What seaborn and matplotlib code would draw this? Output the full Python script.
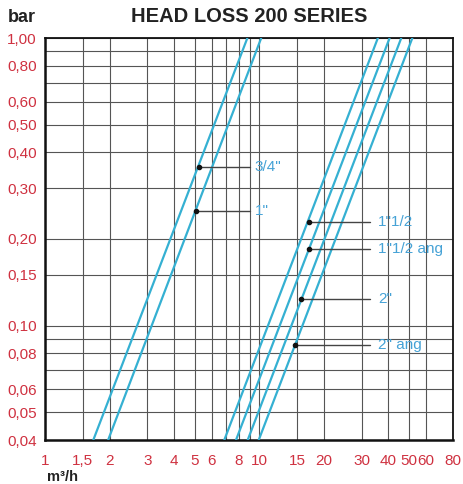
import numpy as np
import pandas as pd
import seaborn as sns
import matplotlib.pyplot as plt
from matplotlib.ticker import FixedLocator, NullFormatter

# pipe sizes, in the order the curves appear left to right
sizes = ['3/4"', '1"', '1"1/2', '1"1/2 ang', '2"', '2" ang']

# flow (m3/h) where each curve meets 0,04 bar and 1,00 bar
q_at_low = [1.68, 1.97, 6.86, 7.78, 8.82, 9.93]
q_at_high = [8.79, 10.2, 35.7, 40.5, 45.9, 51.7]
bar_low = 0.04
bar_high = 1.00

# points on the curves where the label leaders start
mark_q = [5.2, 5.05, 17.0, 17.0, 15.7, 14.6]
mark_bar = [0.355, 0.25, 0.23, 0.185, 0.124, 0.0855]

# axis ticks
x_ticks = [1, 1.5, 2, 3, 4, 5, 6, 8, 10, 15, 20, 30, 40, 50, 60, 80]
x_labels = ["1", "1,5", "2", "3", "4", "5", "6", "8", "10", "15", "20", "30", "40", "50", "60", "80"]
x_extra = [7, 9]
y_ticks = [0.04, 0.05, 0.06, 0.08, 0.10, 0.15, 0.20, 0.30, 0.40, 0.50, 0.60, 0.80, 1.00]
y_labels = ["0,04", "0,05", "0,06", "0,08", "0,10", "0,15", "0,20", "0,30", "0,40", "0,50", "0,60", "0,80", "1,00"]
y_extra = [0.07, 0.09, 0.7, 0.9]

LINE = "#35b0d2"
TEXT_BLUE = "#45a2d6"
RED = "#cf3140"

sns.set_style("white")
plt.rcParams['font.family'] = ['Liberation Sans', 'DejaVu Sans']

df = pd.DataFrame({
    "size": sizes * 2,
    "flow": q_at_low + q_at_high,
    "bar": [bar_low] * len(sizes) + [bar_high] * len(sizes),
})

fig = plt.figure(figsize=(4.63, 4.84), dpi=100)
ax = fig.add_axes([45 / 463, 1 - 440 / 484, 408 / 463, 402 / 484])

sns.lineplot(data=df, x="flow", y="bar", hue="size", palette=[LINE] * len(sizes),
             linewidth=1.6, legend=False, ax=ax, zorder=3)

ax.set_xscale("log")
ax.set_yscale("log")
ax.set_xlim(1, 80)
ax.set_ylim(0.04, 1.0)

ax.xaxis.set_major_locator(FixedLocator(x_ticks))
ax.xaxis.set_minor_locator(FixedLocator(x_extra))
ax.set_xticklabels(x_labels)
ax.xaxis.set_minor_formatter(NullFormatter())
ax.yaxis.set_major_locator(FixedLocator(y_ticks))
ax.yaxis.set_minor_locator(FixedLocator(y_extra))
ax.set_yticklabels(y_labels)
ax.yaxis.set_minor_formatter(NullFormatter())

ax.tick_params(axis="both", which="both", length=0, labelsize=11, labelcolor=RED)
ax.tick_params(axis="x", pad=10)
ax.tick_params(axis="y", pad=6)
ax.grid(True, which="both", color="#555555", linewidth=0.8)
ax.set_xlabel("")
ax.set_ylabel("")

for side in ["left", "bottom"]:
    ax.spines[side].set_linewidth(1.8)
for side in ["top", "right"]:
    ax.spines[side].set_linewidth(1.3)
for sp in ax.spines.values():
    sp.set_color("#111111")
    sp.set_visible(True)

# leaders + labels
for i, name in enumerate(sizes):
    small = i < 2
    x_end = 9.05 if small else 32.8
    x_txt = 9.5 if small else 35.7
    ax.plot([mark_q[i], x_end], [mark_bar[i], mark_bar[i]], color="#444444", lw=1.0, zorder=4)
    ax.plot(mark_q[i], mark_bar[i], "o", color="#111111", ms=3, zorder=5)
    ax.text(x_txt, mark_bar[i], name, color=TEXT_BLUE, fontsize=11, va="center", ha="left", zorder=5)

fig.text(249 / 463, 1 - 17 / 484, "HEAD LOSS 200 SERIES", ha="center", va="center",
         fontsize=14.5, fontweight="bold", color="#222222")
fig.text(8 / 463, 1 - 18 / 484, "bar", ha="left", va="center",
         fontsize=13, fontweight="bold", color="#222222")
fig.text(62 / 463, 1 - 477 / 484, "m³/h", ha="center", va="center",
         fontsize=10.5, fontweight="bold", color="#222222")

fig.savefig("out.png", dpi=100)
